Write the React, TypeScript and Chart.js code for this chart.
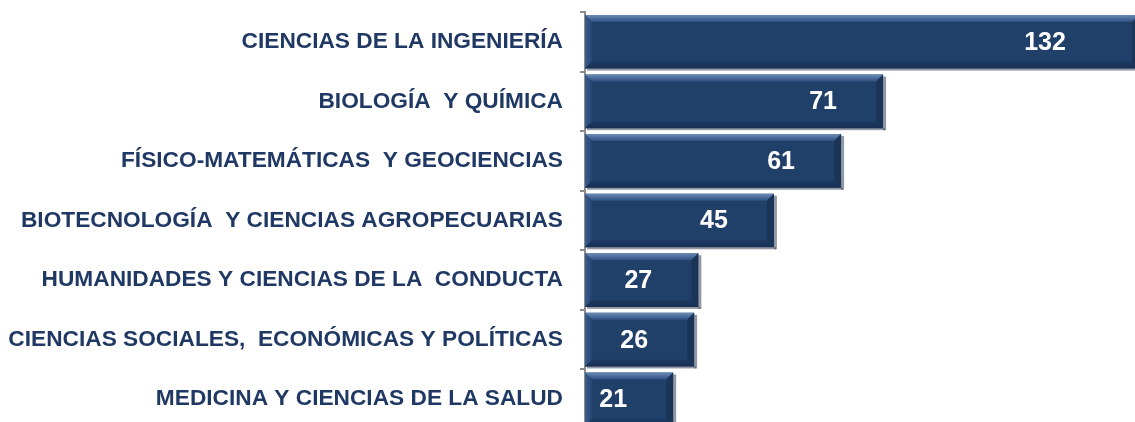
import React, { useEffect, useRef } from "react";
import { Chart, registerables } from "chart.js";

Chart.register(...registerables);

const categories: string[] = [
  "CIENCIAS DE LA INGENIERÍA",
  "BIOLOGÍA  Y QUÍMICA",
  "FÍSICO-MATEMÁTICAS  Y GEOCIENCIAS",
  "BIOTECNOLOGÍA  Y CIENCIAS AGROPECUARIAS",
  "HUMANIDADES Y CIENCIAS DE LA  CONDUCTA",
  "CIENCIAS SOCIALES,  ECONÓMICAS Y POLÍTICAS",
  "MEDICINA Y CIENCIAS DE LA SALUD",
];
const values: number[] = [132, 71, 61, 45, 27, 26, 21];

const NAVY = "#1F3864";
const BAR = "#203F69";

const bevelPlugin = {
  id: "bevel",
  afterDatasetsDraw(chart: any) {
    const ctx = chart.ctx as CanvasRenderingContext2D;
    const meta = chart.getDatasetMeta(0);
    const area = chart.chartArea;
    ctx.save();
    ctx.beginPath();
    ctx.rect(area.left, 0, area.right - area.left, chart.height);
    ctx.clip();
    meta.data.forEach((el: any) => {
      const left = Math.min(el.base, el.x);
      const right = Math.max(el.base, el.x);
      const top = el.y - el.height / 2;
      const bottom = el.y + el.height / 2;
      const b = 7;
      // shadow
      ctx.fillStyle = "rgba(60,70,90,0.55)";
      ctx.fillRect(right, top + 2, 3, bottom - top);
      ctx.fillRect(left + 2, bottom, right - left, 2);
      // top bevel
      const gTop = ctx.createLinearGradient(0, top, 0, top + b);
      gTop.addColorStop(0, "#6A8BB5");
      gTop.addColorStop(1, "#2F5082");
      ctx.fillStyle = gTop;
      ctx.beginPath();
      ctx.moveTo(left, top);
      ctx.lineTo(right, top);
      ctx.lineTo(right - b, top + b);
      ctx.lineTo(left + b, top + b);
      ctx.closePath();
      ctx.fill();
      // left bevel
      const gLeft = ctx.createLinearGradient(left, 0, left + b, 0);
      gLeft.addColorStop(0, "#3A5E90");
      gLeft.addColorStop(1, "#24446F");
      ctx.fillStyle = gLeft;
      ctx.beginPath();
      ctx.moveTo(left, top);
      ctx.lineTo(left + b, top + b);
      ctx.lineTo(left + b, bottom - b);
      ctx.lineTo(left, bottom);
      ctx.closePath();
      ctx.fill();
      // right bevel
      ctx.fillStyle = "#1A3558";
      ctx.beginPath();
      ctx.moveTo(right, top);
      ctx.lineTo(right, bottom);
      ctx.lineTo(right - b, bottom - b);
      ctx.lineTo(right - b, top + b);
      ctx.closePath();
      ctx.fill();
      // bottom bevel
      const gBot = ctx.createLinearGradient(0, bottom - b, 0, bottom);
      gBot.addColorStop(0, "#1D3A62");
      gBot.addColorStop(1, "#172F52");
      ctx.fillStyle = gBot;
      ctx.beginPath();
      ctx.moveTo(left, bottom);
      ctx.lineTo(left + b, bottom - b);
      ctx.lineTo(right - b, bottom - b);
      ctx.lineTo(right, bottom);
      ctx.closePath();
      ctx.fill();
    });
    ctx.restore();
    // value labels
    ctx.save();
    ctx.fillStyle = "#FFFFFF";
    ctx.font = "bold 25px 'Liberation Sans', Arial, sans-serif";
    ctx.textAlign = "center";
    ctx.textBaseline = "middle";
    meta.data.forEach((el: any, i: number) => {
      const end = Math.min(el.x, area.right - 30);
      ctx.fillText(String(values[i]), end - 60, el.y + 1);
    });
    ctx.restore();
  },
};

export default function App() {
  const ref = useRef<HTMLCanvasElement | null>(null);
  useEffect(() => {
    if (!ref.current) return;
    const chart = new Chart(ref.current, {
      type: "bar",
      data: {
        labels: categories,
        datasets: [
          {
            data: values,
            backgroundColor: BAR,
            borderWidth: 0,
            barPercentage: 0.9,
            categoryPercentage: 1,
          },
        ],
      },
      options: {
        indexAxis: "y",
        animation: false,
        responsive: false,
        maintainAspectRatio: false,
        layout: { padding: { top: 12, right: 0, bottom: 0, left: 0 } },
        plugins: { legend: { display: false }, tooltip: { enabled: false } },
        scales: {
          x: { display: false, min: 0, max: 131 },
          y: {
            afterFit(scale: any) {
              scale.width = 585;
              scale.paddingTop = 0;
              scale.paddingBottom = 0;
            },
            border: { display: true, color: "#8C8C8C", width: 2 },
            grid: {
              offset: true,
              drawOnChartArea: false,
              drawTicks: true,
              tickLength: 5,
              color: "#8C8C8C",
              lineWidth: 2,
            },
            ticks: {
              color: NAVY,
              padding: 17,
              font: { family: "'Liberation Sans', Arial, sans-serif", size: 22.7, weight: "bold" },
            },
          },
        },
      },
      plugins: [bevelPlugin],
    });
    return () => chart.destroy();
  }, []);
  return (
    <div style={{ position: "fixed", left: 0, top: 0, width: 1135, height: 430, background: "#fff" }}>
      <canvas ref={ref} width={1135} height={429} style={{ width: 1135, height: 429, display: "block" }} />
    </div>
  );
}
